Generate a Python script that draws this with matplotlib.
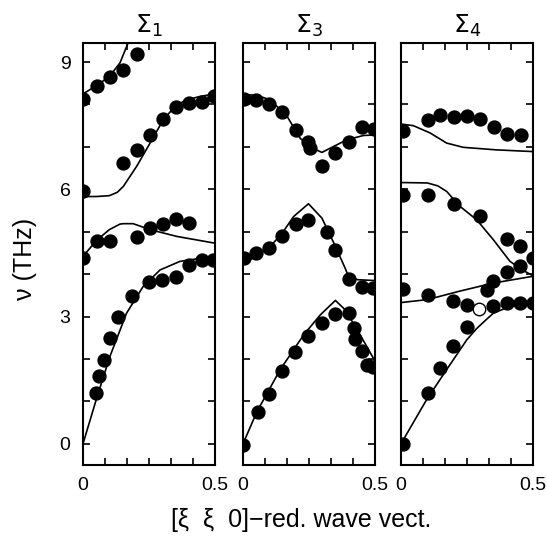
import matplotlib
matplotlib.use("Agg")
import matplotlib.pyplot as plt
from matplotlib.ticker import MultipleLocator, FixedLocator

plt.rcParams['font.family'] = ['Liberation Sans Narrow', 'Liberation Sans', 'DejaVu Sans']
plt.rcParams['mathtext.fontset'] = 'dejavusans'

titles = [r'$\Sigma_1$', r'$\Sigma_3$', r'$\Sigma_4$']
ylabel = 'ν (THz)'
xlabel = '[ξ  ξ  0]−red. wave vect.'

# ---- Sigma 1 ----
s1_pts_x = [0, 0.054, 0.102, 0.153, 0.203,
            0, 0.153, 0.203, 0.254, 0.304, 0.351, 0.403, 0.452, 0.496,
            0, 0.052, 0.102, 0.203, 0.254, 0.304, 0.351, 0.403,
            0.048, 0.061, 0.081, 0.102, 0.134, 0.184, 0.251, 0.300, 0.351, 0.402, 0.450, 0.494]
s1_pts_y = [8.13, 8.43, 8.64, 8.82, 9.20,
            5.97, 6.63, 6.93, 7.29, 7.66, 7.94, 8.04, 8.07, 8.21,
            4.38, 4.77, 4.77, 4.87, 5.08, 5.18, 5.31, 5.21,
            1.20, 1.59, 1.98, 2.49, 2.99, 3.49, 3.81, 3.87, 3.93, 4.22, 4.34, 4.34]
s1_l1_x = [0, 0.05, 0.1, 0.14, 0.172, 0.19]
s1_l1_y = [8.25, 8.44, 8.66, 8.98, 9.47, 9.75]
s1_l2_x = [0, 0.05, 0.1, 0.13, 0.153, 0.203, 0.254, 0.304, 0.355, 0.4, 0.443, 0.5]
s1_l2_y = [5.83, 5.83, 5.85, 5.93, 6.07, 6.54, 7.09, 7.64, 8.0, 8.12, 8.19, 8.25]
s1_l3_x = [0, 0.052, 0.1, 0.14, 0.153, 0.19, 0.254, 0.355, 0.5]
s1_l3_y = [4.42, 4.80, 5.05, 5.18, 5.19, 5.19, 5.05, 4.89, 4.73]
s1_l4_x = [0, 0.052, 0.102, 0.165, 0.228, 0.292, 0.367, 0.43, 0.5]
s1_l4_y = [0, 1.08, 2.06, 3.08, 3.71, 4.10, 4.30, 4.36, 4.38]

# ---- Sigma 3 ----
s3_pts_x = [0.005, 0.048, 0.1, 0.149, 0.202, 0.248, 0.255, 0.300, 0.35, 0.40, 0.451, 0.495,
            0.005, 0.048, 0.1, 0.149, 0.202, 0.248, 0.32, 0.35, 0.40, 0.451, 0.492,
            0, 0.055, 0.097, 0.148, 0.198, 0.248, 0.299, 0.35, 0.40, 0.419, 0.425, 0.451, 0.47, 0.492]
s3_pts_y = [8.13, 8.11, 8.01, 7.82, 7.39, 7.11, 6.97, 6.56, 6.86, 7.12, 7.46, 7.43,
            4.38, 4.50, 4.62, 4.89, 5.19, 5.27, 4.99, 4.58, 3.89, 3.70, 3.67,
            -0.02, 0.74, 1.18, 1.72, 2.16, 2.55, 2.85, 3.06, 3.08, 2.74, 2.48, 2.19, 1.85, 1.80]
s3_l1_x = [0, 0.05, 0.103, 0.167, 0.217, 0.26, 0.299, 0.343, 0.394, 0.457, 0.5]
s3_l1_y = [8.23, 8.22, 8.11, 7.72, 7.2, 6.98, 6.87, 7.01, 7.17, 7.27, 7.28]
s3_l2_x = [0, 0.05, 0.103, 0.15, 0.192, 0.248, 0.299, 0.345, 0.387, 0.394, 0.432, 0.495, 0.5]
s3_l2_y = [4.25, 4.42, 4.65, 4.98, 5.36, 5.66, 5.32, 4.72, 4.14, 4.03, 3.87, 3.85, 3.85]
s3_l3_x = [0, 0.053, 0.141, 0.23, 0.293, 0.35, 0.387, 0.44, 0.5]
s3_l3_y = [0, 0.76, 1.75, 2.57, 3.04, 3.38, 3.16, 2.61, 1.95]

# ---- Sigma 4 ----
s4_pts_x = [0.006, 0.101, 0.149, 0.2, 0.25, 0.299, 0.352, 0.40, 0.453,
            0.006, 0.101, 0.2, 0.299, 0.40, 0.451, 0.499,
            0.006, 0.101, 0.198, 0.249, 0.325, 0.35, 0.35, 0.40, 0.40, 0.451, 0.451, 0.5,
            0.006, 0.101, 0.148, 0.198, 0.249]
s4_pts_y = [7.38, 7.63, 7.76, 7.71, 7.74, 7.66, 7.48, 7.30, 7.27,
            5.87, 5.86, 5.65, 5.36, 4.83, 4.67, 4.38,
            3.65, 3.50, 3.36, 3.28, 3.63, 3.83, 3.25, 4.06, 3.33, 4.20, 3.33, 3.31,
            0, 1.19, 1.78, 2.30, 2.75]
s4_open_x = [0.295]
s4_open_y = [3.17]
s4_l1_x = [0, 0.047, 0.11, 0.173, 0.236, 0.362, 0.5]
s4_l1_y = [7.54, 7.50, 7.33, 7.09, 6.99, 6.93, 6.89]
s4_l2_x = [0, 0.1, 0.14, 0.173, 0.223, 0.287, 0.35, 0.413, 0.46, 0.5]
s4_l2_y = [6.16, 6.15, 6.08, 5.95, 5.60, 5.28, 4.81, 4.30, 4.10, 3.96]
s4_l3_x = [0, 0.1, 0.223, 0.35, 0.5]
s4_l3_y = [3.33, 3.40, 3.60, 3.79, 3.95]
s4_l4_x = [0, 0.097, 0.173, 0.249, 0.287, 0.325, 0.35, 0.413, 0.5]
s4_l4_y = [0, 1.04, 1.75, 2.45, 2.72, 2.94, 3.08, 3.24, 3.27]

panels = [
    (s1_pts_x, s1_pts_y, [], [], [(s1_l1_x, s1_l1_y), (s1_l2_x, s1_l2_y), (s1_l3_x, s1_l3_y), (s1_l4_x, s1_l4_y)]),
    (s3_pts_x, s3_pts_y, [], [], [(s3_l1_x, s3_l1_y), (s3_l2_x, s3_l2_y), (s3_l3_x, s3_l3_y)]),
    (s4_pts_x, s4_pts_y, s4_open_x, s4_open_y, [(s4_l1_x, s4_l1_y), (s4_l2_x, s4_l2_y), (s4_l3_x, s4_l3_y), (s4_l4_x, s4_l4_y)]),
]

fig = plt.figure(figsize=(5.47, 5.39), dpi=100)
lefts = [83 / 547, 243 / 547, 401 / 547]
bottom = 1 - 465 / 539
height = (465 - 43) / 539
width = 132 / 547

for i, (px, py, ox, oy, lines) in enumerate(panels):
    ax = fig.add_axes([lefts[i], bottom, width, height])
    for lx, ly in lines:
        ax.plot(lx, ly, color='black', lw=1.2)
    ax.plot(px, py, 'o', color='black', ms=9.3, mec='black')
    if ox:
        ax.plot(ox, oy, 'o', mfc='white', mec='black', ms=9, mew=1.0)
    ax.set_xlim(0, 0.5)
    ax.set_ylim(-0.5, 9.45)
    ax.xaxis.set_major_locator(FixedLocator([0, 0.5]))
    ax.xaxis.set_minor_locator(MultipleLocator(0.5 / 6))
    ax.set_xticklabels(['0', '0.5'])
    ax.yaxis.set_major_locator(FixedLocator([0, 3, 6, 9]))
    ax.yaxis.set_minor_locator(MultipleLocator(1))
    if i == 0:
        ax.set_yticklabels(['0', '3', '6', '9'])
    else:
        ax.set_yticklabels([])
    ax.tick_params(which='both', direction='in', top=True, right=True, width=1.2, labelsize=14)
    ax.tick_params(which='major', length=5)
    ax.tick_params(which='minor', length=5)
    ax.tick_params(axis='x', pad=9)
    ax.tick_params(axis='y', pad=9)
    for s in ax.spines.values():
        s.set_linewidth(1.5)
    ax.set_title(titles[i], fontsize=18, pad=7)

fig.text(0.046, 0.519, ylabel, rotation=90, ha='center', va='center', fontsize=18)
fig.text(0.551, 0.035, xlabel, ha='center', va='center', fontsize=18)

fig.savefig('out.png', dpi=100)
